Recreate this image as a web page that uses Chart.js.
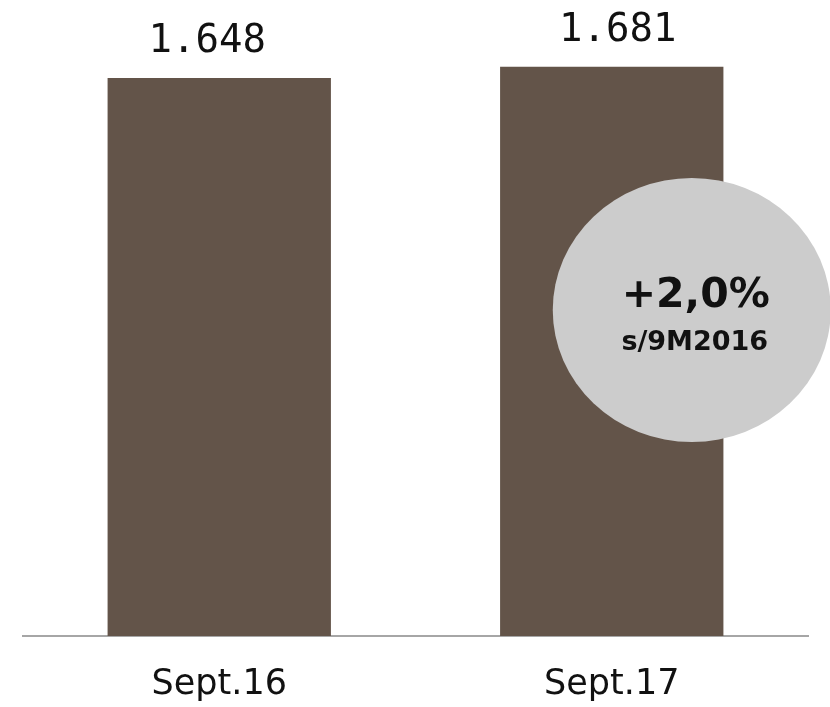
<!DOCTYPE html>
<html>
<head>
<meta charset="utf-8">
<script src="https://cdn.jsdelivr.net/npm/chart.js@4"></script>
<style>
  html, body { margin: 0; padding: 0; background: #fff; }
  #wrap { width: 830px; height: 707px; position: relative; }
</style>
</head>
<body>
<div id="wrap"><canvas id="chart"></canvas></div>
<script>
// data
const categories = ['Sept.16', 'Sept.17'];
const values = [1648, 1681];
const valueLabels = ['1.648', '1.681'];
const badgeMain = '+2,0%';
const badgeSub = 's/9M2016';

const barColor = '#635449';

// value labels above bars + grey badge
const overlay = {
    id: 'overlay',
    afterDatasetsDraw(chart) {
        const ctx = chart.ctx;
        const meta = chart.getDatasetMeta(0);
        ctx.save();
        ctx.fillStyle = '#111';
        ctx.font = '39px "DejaVu Sans Mono"';
        ctx.textAlign = 'center';
        ctx.textBaseline = 'alphabetic';
        meta.data.forEach((bar, i) => {
            ctx.fillText(valueLabels[i], bar.x - (i === 0 ? 12 : -6), bar.y - 26);
        });

        // badge sits over the right bar
        const last = meta.data[meta.data.length - 1];
        const cx = last.x + 80;
        const cy = 310;
        ctx.beginPath();
        ctx.ellipse(cx, cy, 139, 132, 0, 0, Math.PI * 2);
        ctx.fillStyle = '#cccccc';
        ctx.fill();

        ctx.fillStyle = '#111';
        ctx.font = 'bold 41px "DejaVu Sans"';
        ctx.fillText(badgeMain, cx + 4, 307);
        ctx.font = 'bold 27px "DejaVu Sans"';
        ctx.fillText(badgeSub, cx + 3, 350);
        ctx.restore();
    }
};

new Chart(document.getElementById('chart'), {
    type: 'bar',
    data: {
        labels: categories,
        datasets: [{
            data: values,
            backgroundColor: barColor,
            borderWidth: 0,
            barPercentage: 0.569,
            categoryPercentage: 1
        }]
    },
    options: {
        responsive: true,
        maintainAspectRatio: false,
        animation: false,
        layout: { padding: { left: 23, right: 22, top: 0, bottom: 2 } },
        plugins: { legend: { display: false }, tooltip: { enabled: false } },
        scales: {
            x: {
                grid: { display: false, drawTicks: false },
                border: { display: true, color: '#a6a6a6', width: 2 },
                ticks: {
                    color: '#111',
                    padding: 28,
                    font: { family: 'DejaVu Sans', size: 35 }
                },
                afterFit(axis) { axis.height = 69; }
            },
            y: {
                display: false,
                min: 0,
                max: 1878
            }
        }
    },
    plugins: [overlay]
});
</script>
</body>
</html>
